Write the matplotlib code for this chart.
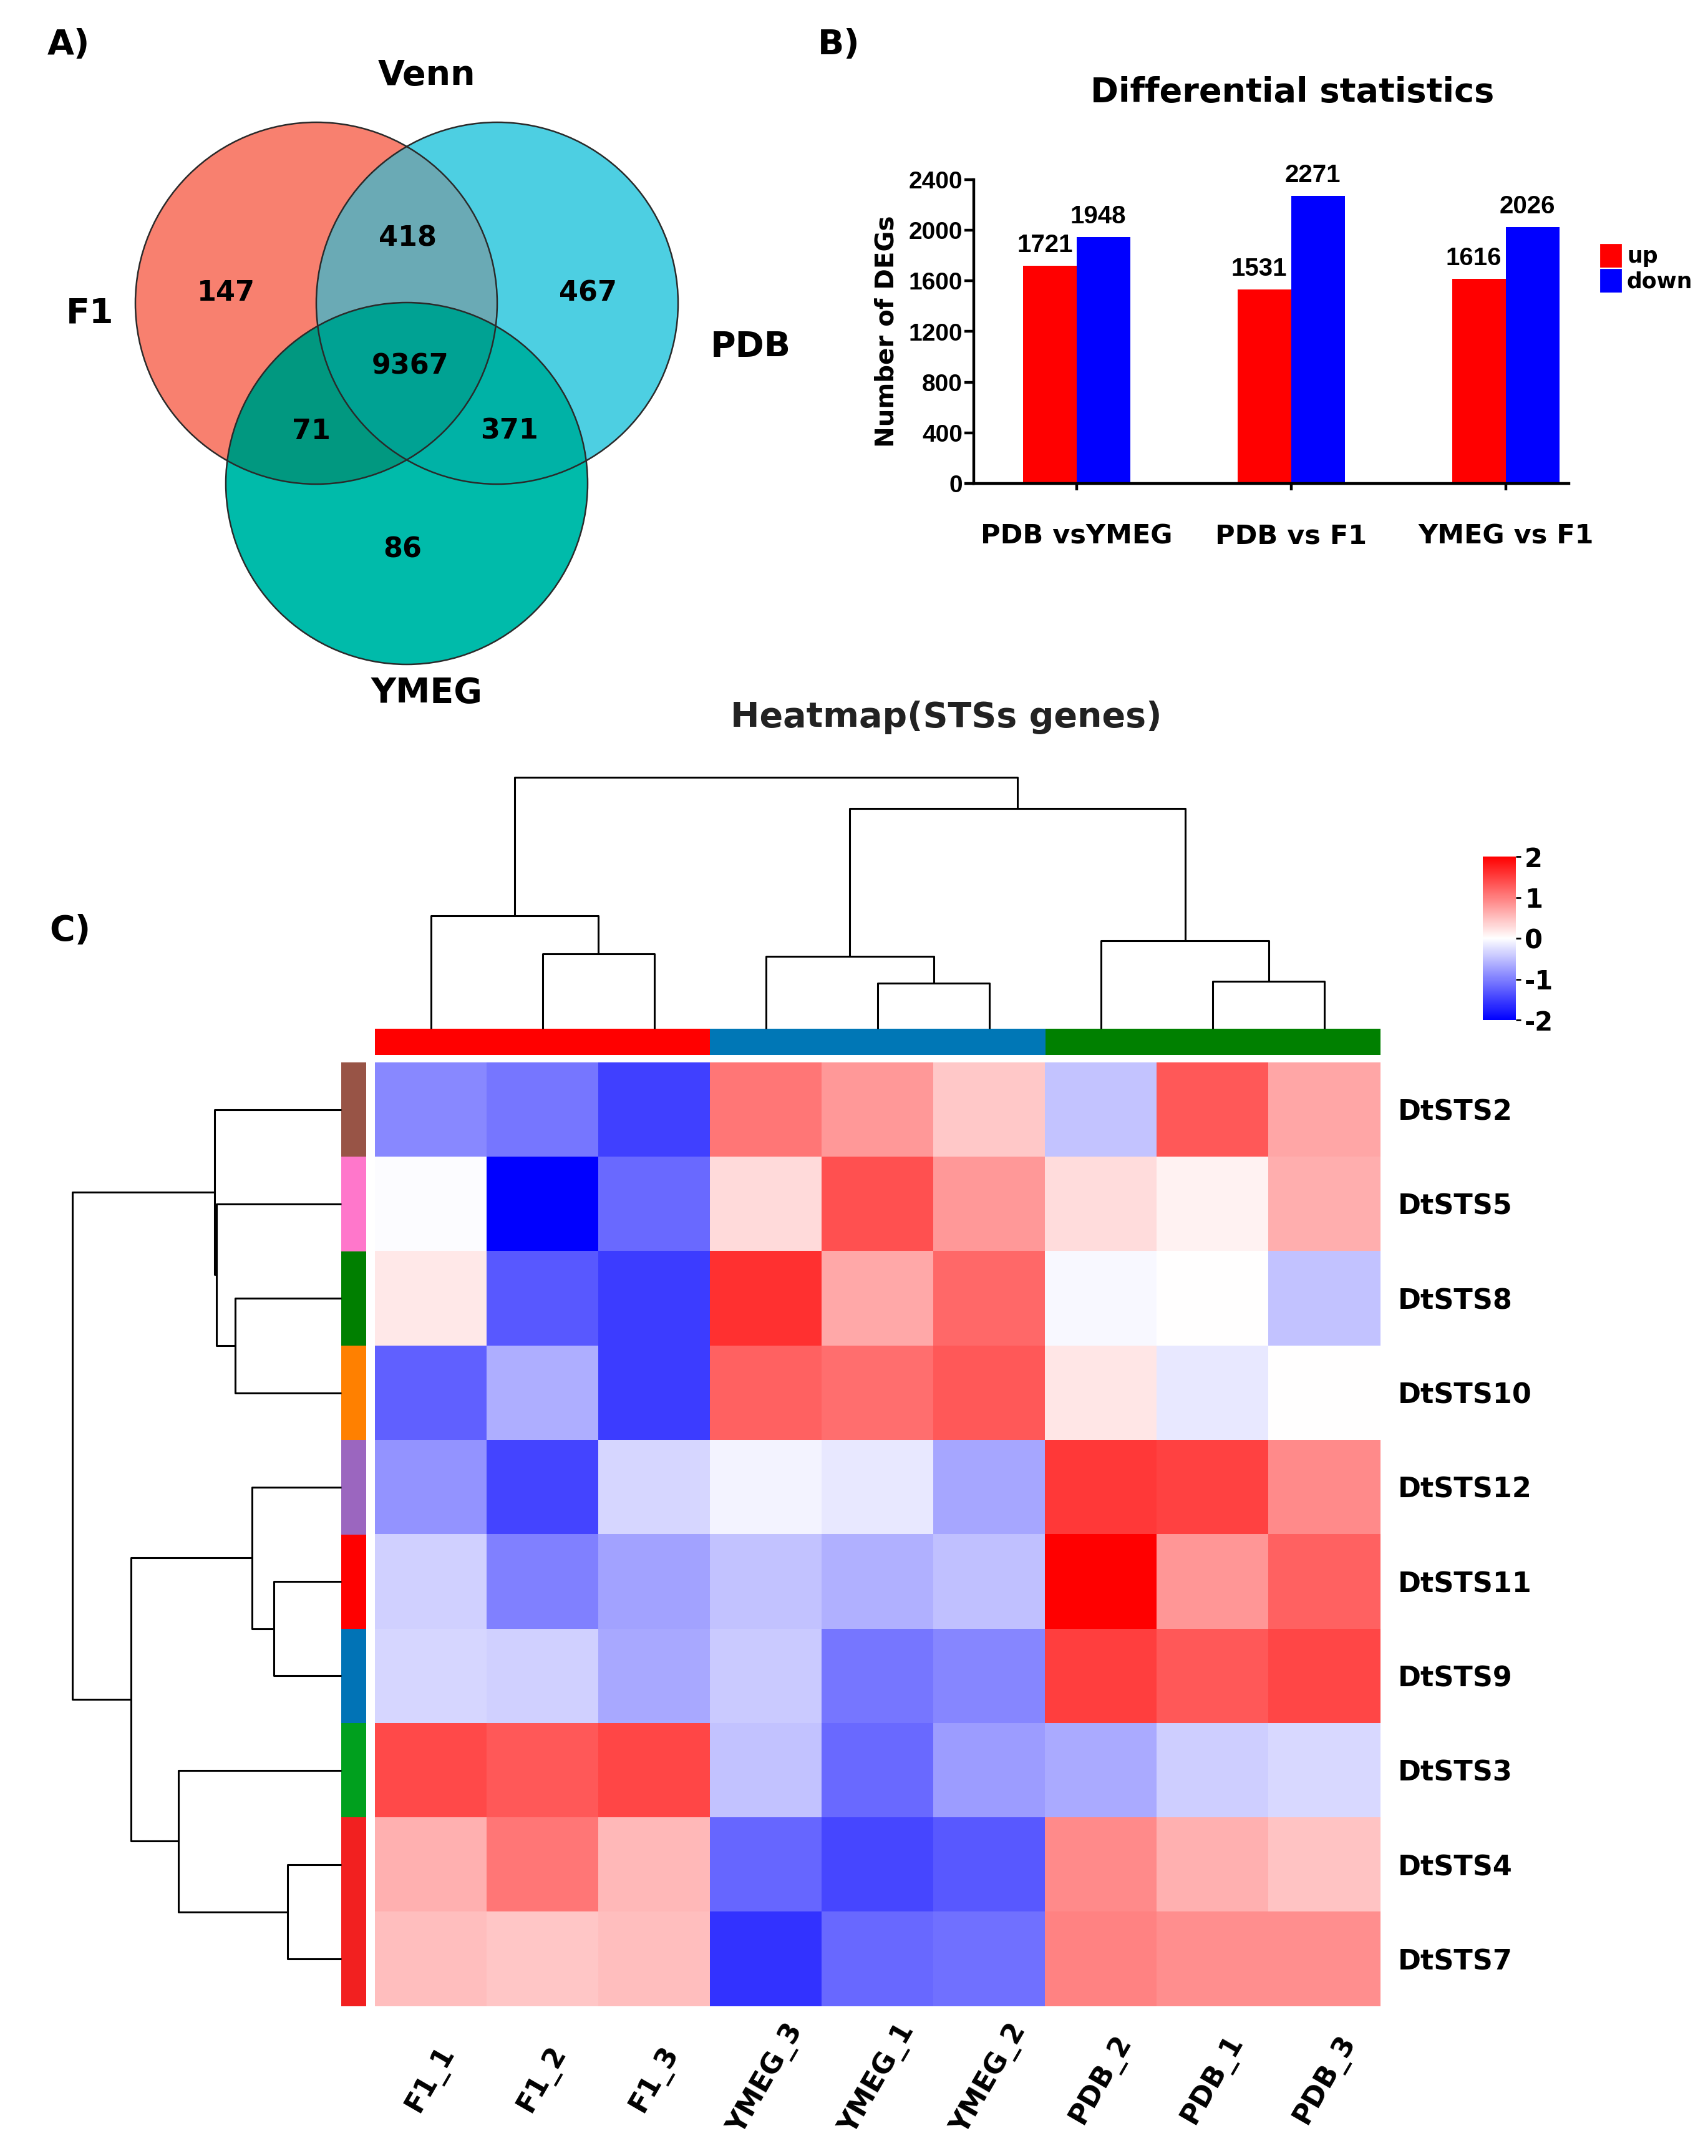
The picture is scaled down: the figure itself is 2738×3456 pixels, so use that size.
import numpy as np
import matplotlib
matplotlib.use("Agg")
import matplotlib.pyplot as plt
from matplotlib.patches import Circle, Polygon, Patch

# ---------------- data ----------------
# Venn (A)
venn_sets = ["F1", "PDB", "YMEG"]
venn_regions = ["F1", "PDB", "YMEG", "F1&PDB", "F1&YMEG", "PDB&YMEG", "F1&PDB&YMEG"]
venn_counts = [147, 467, 86, 418, 71, 371, 9367]

# Differential statistics (B)
comparisons = ["PDB vsYMEG", "PDB vs F1", "YMEG vs F1"]
up_counts = [1721, 1531, 1616]
down_counts = [1948, 2271, 2026]

# Heatmap (C) - rows/cols already in clustered order
genes = ["DtSTS2", "DtSTS5", "DtSTS8", "DtSTS10", "DtSTS12",
         "DtSTS11", "DtSTS9", "DtSTS3", "DtSTS4", "DtSTS7"]
samples = ["F1_1", "F1_2", "F1_3", "YMEG_3", "YMEG_1", "YMEG_2", "PDB_2", "PDB_1", "PDB_3"]
sample_groups = ["F1", "F1", "F1", "YMEG", "YMEG", "YMEG", "PDB", "PDB", "PDB"]
zscores = [
    [-0.93, -1.07, -1.50,  1.07,  0.80,  0.43, -0.46,  1.31,  0.70],
    [-0.03, -2.00, -1.16,  0.29,  1.37,  0.80,  0.28,  0.10,  0.63],
    [ 0.18, -1.31, -1.53,  1.62,  0.68,  1.18, -0.05,  0.00, -0.47],
    [-1.25, -0.63, -1.53,  1.23,  1.14,  1.30,  0.20, -0.18,  0.00],
    [-0.84, -1.46, -0.32, -0.09, -0.18, -0.70,  1.55,  1.48,  0.92],
    [-0.37, -1.00, -0.73, -0.47, -0.62, -0.50,  2.00,  0.82,  1.23],
    [-0.32, -0.37, -0.68, -0.41, -1.07, -0.95,  1.50,  1.30,  1.45],
    [ 1.42,  1.30,  1.45, -0.48, -1.17, -0.78, -0.66, -0.39, -0.30],
    [ 0.61,  1.07,  0.55, -1.20, -1.44, -1.30,  0.92,  0.61,  0.46],
    [ 0.50,  0.45,  0.50, -1.60, -1.18, -1.12,  0.98,  0.88,  0.88],
]
row_side_colors = ["#985446", "#FF77CB", "#007F00", "#FF8000", "#9B66BF",
                   "#FF0000", "#0173B6", "#00A01E", "#F22020", "#F22020"]
group_colors = {"F1": "#FF0000", "YMEG": "#0077B6", "PDB": "#008000"}

# linkage: (left, right, height); ints refer to earlier merges
row_links = [("DtSTS8", "DtSTS10", 170), ("DtSTS5", 0, 200), ("DtSTS2", 1, 203),
             ("DtSTS11", "DtSTS9", 108), ("DtSTS12", 3, 143),
             ("DtSTS4", "DtSTS7", 86), ("DtSTS3", 5, 261),
             (4, 6, 337), (2, 7, 431)]
col_links = [("F1_2", "F1_3", 120), ("F1_1", 0, 181),
             ("YMEG_1", "YMEG_2", 73), ("YMEG_3", 2, 116),
             ("PDB_1", "PDB_3", 76), ("PDB_2", 4, 141),
             (3, 5, 354), (1, 6, 404)]

# ---------------- layout helpers ----------------
W, H = 2738, 3456
DPI = 200
plt.rcParams['font.family'] = ['DejaVu Sans']
plt.rcParams['font.weight'] = 'bold'
plt.rcParams['axes.unicode_minus'] = False
arial = ['Liberation Sans', 'DejaVu Sans']

fig = plt.figure(figsize=(W / DPI, H / DPI), dpi=DPI, facecolor='white')


def px_axes(x0, y0, x1, y1):
    return fig.add_axes([x0 / W, 1 - y1 / H, (x1 - x0) / W, (y1 - y0) / H])


def ftext(x, y, s, **kw):
    kw.setdefault('ha', 'center')
    kw.setdefault('va', 'center')
    fig.text(x / W, 1 - y / H, s, **kw)


def dendro_segments(links, leaves):
    pos = {name: i + 0.5 for i, name in enumerate(leaves)}
    node_pos, node_h, segs = {}, {}, []

    def get(ref):
        if isinstance(ref, str):
            return pos[ref], 0.0
        return node_pos[ref], node_h[ref]

    for k, (a, b, h) in enumerate(links):
        pa, ha = get(a)
        pb, hb = get(b)
        segs.append(([pa, pa, pb, pb], [ha, h, h, hb]))
        node_pos[k] = (pa + pb) / 2
        node_h[k] = h
    return segs


# ---------------- A) Venn ----------------
ax_a = px_axes(0, 0, 1370, 1150)
ax_a.set_xlim(0, 1370)
ax_a.set_ylim(1150, 0)
ax_a.axis('off')

R = 290
centers = {"F1": (507, 486), "PDB": (797, 486), "YMEG": (652, 775)}
region_colors = {"F1": "#F8806F", "PDB": "#4DCFE2", "YMEG": "#00BBAA",
                 "F1&PDB": "#6AAAB5", "F1&YMEG": "#019880",
                 "PDB&YMEG": "#00B2A6", "F1&PDB&YMEG": "#00A293"}
label_pos = {"F1": (362, 470), "PDB": (943, 470), "YMEG": (645, 881),
             "F1&PDB": (654, 382), "F1&YMEG": (499, 691),
             "PDB&YMEG": (817, 691), "F1&PDB&YMEG": (658, 587)}


def intersection_poly(names, n=1440):
    pts = []
    t = np.linspace(0, 2 * np.pi, n, endpoint=False)
    for nm in names:
        cx, cy = centers[nm]
        p = np.c_[cx + R * np.cos(t), cy + R * np.sin(t)]
        mask = np.ones(n, bool)
        for other in names:
            if other == nm:
                continue
            ox, oy = centers[other]
            mask &= np.hypot(p[:, 0] - ox, p[:, 1] - oy) <= R + 1e-6
        pts.append(p[mask])
    P = np.vstack(pts)
    c = P.mean(axis=0)
    order = np.argsort(np.arctan2(P[:, 1] - c[1], P[:, 0] - c[0]))
    return P[order]


for nm in venn_sets:
    ax_a.add_patch(Circle(centers[nm], R, facecolor=region_colors[nm], edgecolor='none'))
for reg in venn_regions[3:]:
    ax_a.add_patch(Polygon(intersection_poly(reg.split("&")), closed=True,
                           facecolor=region_colors[reg], edgecolor='none'))
for nm in venn_sets:
    ax_a.add_patch(Circle(centers[nm], R, fill=False, edgecolor='#2a2a2a', lw=0.9))

for reg, cnt in zip(venn_regions, venn_counts):
    x, y = label_pos[reg]
    ax_a.text(x, y, str(cnt), ha='center', va='center', fontsize=16, fontweight='bold')

ax_a.text(144, 503, "F1", ha='center', va='center', fontsize=20, fontweight='bold')
ax_a.text(1203, 556, "PDB", ha='center', va='center', fontsize=20, fontweight='bold')
ax_a.text(684, 1111, "YMEG", ha='center', va='center', fontsize=20, fontweight='bold')
ax_a.text(684, 121, "Venn", ha='center', va='center', fontsize=20, fontweight='bold')
ftext(110, 72, "A)", fontsize=20, fontweight='bold')

# ---------------- B) Bar chart ----------------
ax_b = px_axes(1561, 288, 2515, 775)
x = np.arange(len(comparisons))
bw = 0.25
bars_up = ax_b.bar(x - bw / 2, up_counts, bw, color='#FF0000', label='up')
bars_dn = ax_b.bar(x + bw / 2, down_counts, bw, color='#0000FF', label='down')
ax_b.set_xlim(-0.48, 2.294)
ax_b.set_ylim(0, 2400)
ax_b.set_yticks(np.arange(0, 2401, 400))
for s in ['top', 'right']:
    ax_b.spines[s].set_visible(False)
for s in ['left', 'bottom']:
    ax_b.spines[s].set_linewidth(1.6)
ax_b.tick_params(axis='y', length=5.5, width=1.6, pad=1)
ax_b.tick_params(axis='x', length=4, width=1.6, pad=19)
for lab in ax_b.get_yticklabels():
    lab.set_family(arial)
    lab.set_fontsize(14)
    lab.set_fontweight('bold')
ax_b.set_xticks(x)
ax_b.set_xticklabels(comparisons, fontsize=15.5, fontweight='bold')
ax_b.set_ylabel("Number of DEGs", fontsize=14.5, fontweight='bold')
ax_b.yaxis.set_label_coords(-0.125, 0.5)
for bars in (bars_up, bars_dn):
    for b in bars:
        ax_b.annotate(f"{int(b.get_height())}", (b.get_x() + b.get_width() / 2, b.get_height()),
                      xytext=(-3, 5), textcoords='offset points', ha='center', va='bottom',
                      fontsize=14.5, fontweight='bold', family=arial)
fig.legend(handles=[Patch(color='#FF0000', label='up'), Patch(color='#0000FF', label='down')],
           loc='center left', bbox_to_anchor=(2535 / W, 1 - 430 / H), frameon=False,
           handlelength=0.9, handleheight=1.2, handletextpad=0.3, labelspacing=0.1,
           prop={'size': 12.5, 'weight': 'bold'})
ftext(2072, 148, "Differential statistics", fontsize=19.5, fontweight='bold')
ftext(1345, 72, "B)", fontsize=20, fontweight='bold')

# ---------------- C) Clustered heatmap ----------------
ftext(1517, 1150, "Heatmap(STSs genes)", fontsize=20, fontweight='bold', color='#222222')
ftext(112, 1492, "C)", fontsize=20, fontweight='bold')

hm_x0, hm_x1, hm_y0, hm_y1 = 601, 2213, 1703, 3216
ax_h = px_axes(hm_x0, hm_y0, hm_x1, hm_y1)
data = np.array(zscores)
im = ax_h.imshow(data, cmap='bwr', vmin=-2, vmax=2, aspect='auto',
                 extent=(0, len(samples), len(genes), 0), interpolation='nearest')
ax_h.set_xlim(0, len(samples))
ax_h.set_ylim(len(genes), 0)
for s in ax_h.spines.values():
    s.set_visible(False)
ax_h.set_xticks(np.arange(len(samples)) + 0.5)
ax_h.set_xticklabels(samples, rotation=60, ha='center', va='center',
                     rotation_mode='anchor', fontsize=16, fontweight='bold')
ax_h.tick_params(axis='x', length=0, pad=42)
ax_h.yaxis.tick_right()
ax_h.set_yticks(np.arange(len(genes)) + 0.5)
ax_h.set_yticklabels(genes, fontsize=16, fontweight='bold')
ax_h.tick_params(axis='y', length=0, pad=10)

# column side colours
ax_cc = px_axes(hm_x0, 1649, hm_x1, 1691)
ax_cc.bar(np.arange(len(samples)) + 0.5, 1, width=1.0,
          color=[group_colors[g] for g in sample_groups])
ax_cc.set_xlim(0, len(samples))
ax_cc.set_ylim(0, 1)
ax_cc.axis('off')

# row side colours
ax_rc = px_axes(547, hm_y0, 587, hm_y1)
ax_rc.barh(np.arange(len(genes)) + 0.5, 1, height=1.0, color=row_side_colors)
ax_rc.set_ylim(len(genes), 0)
ax_rc.set_xlim(0, 1)
ax_rc.axis('off')

# column dendrogram
ax_cd = px_axes(hm_x0, 1246, hm_x1, 1649)
for xs, ys in dendro_segments(col_links, samples):
    ax_cd.plot(xs, ys, color='black', lw=1.1, clip_on=False, solid_capstyle='butt')
ax_cd.set_xlim(0, len(samples))
ax_cd.set_ylim(0, 404)
ax_cd.axis('off')

# row dendrogram
ax_rd = px_axes(116, hm_y0, 547, hm_y1)
for ps, hs in dendro_segments(row_links, genes):
    ax_rd.plot(hs, ps, color='black', lw=1.1, clip_on=False, solid_capstyle='butt')
ax_rd.set_ylim(len(genes), 0)
ax_rd.set_xlim(431, 0)
ax_rd.axis('off')

# colour bar
cax = px_axes(2377, 1373, 2430, 1635)
cb = fig.colorbar(im, cax=cax, ticks=[-2, -1, 0, 1, 2])
cb.outline.set_visible(False)
cax.tick_params(length=3, width=1, pad=2)
for lab in cax.get_yticklabels():
    lab.set_fontsize(15)
    lab.set_fontweight('bold')

fig.savefig("out.png", dpi=DPI, facecolor='white')
